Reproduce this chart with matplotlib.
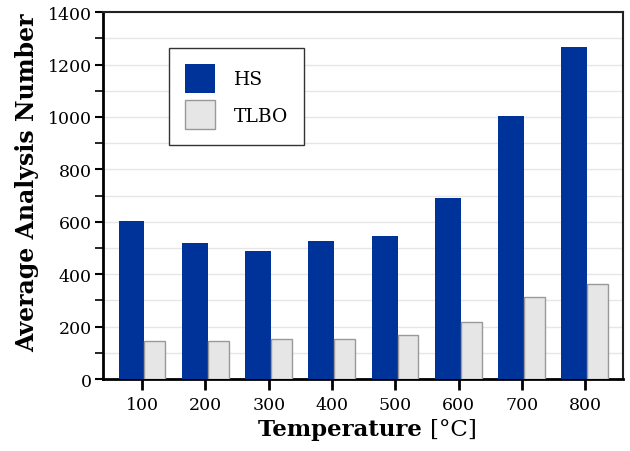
import numpy as np
import matplotlib
matplotlib.use("Agg")
from matplotlib import pyplot as plt
from matplotlib.ticker import MultipleLocator

temps = ["100", "200", "300", "400", "500", "600", "700", "800"]
hs_vals = [605, 518, 489, 527, 546, 692, 1003, 1266]
tlbo_vals = [145, 145, 152, 152, 168, 217, 312, 362]

plt.rcParams['font.family'] = 'DejaVu Serif'

fig = plt.figure(figsize=(6.3, 4.52), dpi=100)
ax = fig.add_axes([0.1635, 0.159, 0.8255, 0.812])

x = np.arange(len(temps))
ax.bar(x - 0.17, hs_vals, width=0.41, color='#003399', edgecolor='none',
       label='HS', zorder=3)
ax.bar(x + 0.2, tlbo_vals, width=0.33, color='#e6e6e6', edgecolor='#999999',
       linewidth=1.0, label='TLBO', zorder=3)

ax.set_xlim(-0.62, 7.6)
ax.set_ylim(0, 1400)
ax.set_xticks(x)
ax.set_xticklabels(temps)
ax.yaxis.set_major_locator(MultipleLocator(200))
ax.yaxis.set_minor_locator(MultipleLocator(100))
ax.grid(axis='y', which='both', color='#e6e6e6', linewidth=1.0, zorder=0)

ax.tick_params(axis='y', which='major', length=6, width=1.5, labelsize=12.5, pad=2)
ax.tick_params(axis='y', which='minor', length=6, width=1.2)
ax.tick_params(axis='x', length=8, width=2, labelsize=12.5, pad=4)

ax.spines['left'].set_linewidth(2)
ax.spines['bottom'].set_linewidth(2)
ax.spines['top'].set_linewidth(1.5)
ax.spines['right'].set_linewidth(1.5)
ax.spines['top'].set_color('#222222')
ax.spines['right'].set_color('#222222')

ax.set_ylabel('Average Analysis Number', fontsize=17, fontweight='bold')
ax.yaxis.set_label_coords(-0.122, 0.537)

# x label: bold word, regular unit
fig.text(0.682, 0.035, 'Temperature ', fontsize=16.5, fontweight='bold',
         ha='right', va='baseline')
fig.text(0.682, 0.035, '[°C]', fontsize=16.5, ha='left', va='baseline')

leg = ax.legend(loc='upper left', bbox_to_anchor=(0.127, 0.902), fontsize=13.5,
                handlelength=1.6, handleheight=2.0, handletextpad=1.0,
                labelspacing=0.4, borderpad=0.85, borderaxespad=0,
                fancybox=False, edgecolor='#333333', framealpha=1)
leg.get_frame().set_linewidth(1.0)

fig.savefig('out.png', dpi=100)
